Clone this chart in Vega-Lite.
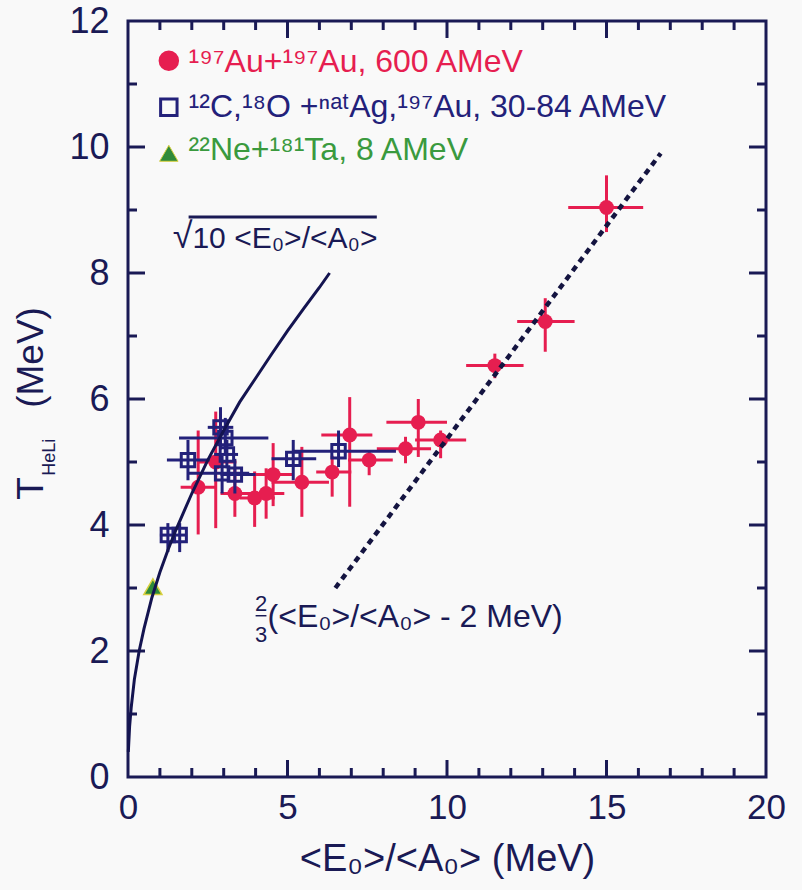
{
  "$schema": "https://vega.github.io/schema/vega-lite/v6.json",
  "width": 638,
  "height": 756,
  "autosize": {"type": "none"},
  "padding": {"left": 128, "top": 21, "right": 36, "bottom": 113},
  "background": "#f9f9f9",
  "config": {
    "view": {"stroke": "#1a1a55", "strokeWidth": 3},
    "font": "Liberation Sans",
    "axis": {"grid": false, "domain": false, "labelFont": "Liberation Sans", "titleFont": "Liberation Sans"}
  },
  "datasets": {
    "red": [
      {"x": 2.2, "y": 4.6, "xlo": 1.65, "xhi": 2.75, "ylo": 3.85, "yhi": 5.5},
      {"x": 2.75, "y": 5.0, "xlo": 2.2, "xhi": 3.4, "ylo": 3.95, "yhi": 5.8},
      {"x": 3.35, "y": 4.5, "xlo": 2.9, "xhi": 3.9, "ylo": 4.13, "yhi": 4.9},
      {"x": 3.97, "y": 4.43, "xlo": 3.5, "xhi": 4.6, "ylo": 3.97, "yhi": 4.85},
      {"x": 4.33, "y": 4.5, "xlo": 3.8, "xhi": 4.9, "ylo": 4.1, "yhi": 4.9},
      {"x": 4.55, "y": 4.8, "xlo": 4.0, "xhi": 5.2, "ylo": 4.3, "yhi": 5.3},
      {"x": 5.45, "y": 4.68, "xlo": 4.5, "xhi": 6.3, "ylo": 4.13, "yhi": 5.24},
      {"x": 6.4, "y": 4.84, "xlo": 5.9, "xhi": 7.0, "ylo": 4.45, "yhi": 5.1},
      {"x": 6.95, "y": 5.43, "xlo": 6.06, "xhi": 7.66, "ylo": 4.29, "yhi": 6.03},
      {"x": 7.56, "y": 5.03, "xlo": 6.9, "xhi": 8.3, "ylo": 4.79, "yhi": 5.19},
      {"x": 8.7, "y": 5.21, "xlo": 7.8, "xhi": 9.5, "ylo": 4.98, "yhi": 5.4},
      {"x": 9.1, "y": 5.63, "xlo": 8.1, "xhi": 10.0, "ylo": 5.08, "yhi": 6.0},
      {"x": 9.8, "y": 5.35, "xlo": 9.0, "xhi": 10.6, "ylo": 5.06, "yhi": 5.5},
      {"x": 11.5, "y": 6.53, "xlo": 10.6, "xhi": 12.4, "ylo": 6.33, "yhi": 6.72},
      {"x": 13.08, "y": 7.23, "xlo": 12.2, "xhi": 14.0, "ylo": 6.75, "yhi": 7.6},
      {"x": 15.0, "y": 9.04, "xlo": 13.8, "xhi": 16.15, "ylo": 8.65, "yhi": 9.55}
    ],
    "blue": [
      {"x": 1.25, "y": 3.84, "xlo": 1.0, "xhi": 1.5, "ylo": 3.57, "yhi": 4.03},
      {"x": 1.62, "y": 3.84, "xlo": 1.4, "xhi": 1.85, "ylo": 3.57, "yhi": 4.03},
      {"x": 1.88, "y": 5.03, "xlo": 1.22, "xhi": 2.56, "ylo": 4.71, "yhi": 5.35},
      {"x": 2.9, "y": 5.55, "xlo": 2.5, "xhi": 3.3, "ylo": 5.2, "yhi": 5.87},
      {"x": 3.05, "y": 5.38, "xlo": 1.6, "xhi": 4.4, "ylo": 5.1, "yhi": 5.7},
      {"x": 3.1, "y": 5.12, "xlo": 2.7, "xhi": 3.45, "ylo": 4.9, "yhi": 5.35},
      {"x": 2.95, "y": 4.82, "xlo": 1.9, "xhi": 3.8, "ylo": 4.5, "yhi": 5.1},
      {"x": 3.35, "y": 4.8, "xlo": 2.9, "xhi": 4.0, "ylo": 4.5, "yhi": 5.05},
      {"x": 5.18, "y": 5.05, "xlo": 4.5, "xhi": 5.9, "ylo": 4.71, "yhi": 5.35},
      {"x": 6.6, "y": 5.17, "xlo": 5.15, "xhi": 8.4, "ylo": 4.92, "yhi": 5.5}
    ],
    "green": [{"x": 0.78, "y": 3.02}],
    "sqrtcurve": [
      {"x": 0.01, "y": 0.4}, {"x": 0.05, "y": 0.8}, {"x": 0.1, "y": 1.1}, {"x": 0.2, "y": 1.55},
      {"x": 0.35, "y": 2.0}, {"x": 0.5, "y": 2.35}, {"x": 0.75, "y": 2.85}, {"x": 1.0, "y": 3.25},
      {"x": 1.25, "y": 3.6}, {"x": 1.5, "y": 3.92}, {"x": 2.0, "y": 4.5}, {"x": 2.5, "y": 5.03},
      {"x": 3.0, "y": 5.5}, {"x": 3.5, "y": 5.95}, {"x": 4.0, "y": 6.33}, {"x": 4.5, "y": 6.71},
      {"x": 5.0, "y": 7.08}, {"x": 5.5, "y": 7.43}, {"x": 6.0, "y": 7.77}, {"x": 6.32, "y": 8.0}
    ],
    "linear": [{"x": 6.5, "y": 3.0}, {"x": 16.7, "y": 9.9}],
    "xmajor": [{"v": 5}, {"v": 10}, {"v": 15}],
    "xminor": [{"v": 1}, {"v": 2}, {"v": 3}, {"v": 4}, {"v": 6}, {"v": 7}, {"v": 8}, {"v": 9}, {"v": 11}, {"v": 12}, {"v": 13}, {"v": 14}, {"v": 16}, {"v": 17}, {"v": 18}, {"v": 19}],
    "ymajor": [{"v": 2}, {"v": 4}, {"v": 6}, {"v": 8}, {"v": 10}],
    "yminor": [{"v": 1}, {"v": 3}, {"v": 5}, {"v": 7}, {"v": 9}, {"v": 11}]
  },
  "layer": [
    {
      "data": {"name": "xmajor"},
      "mark": {"type": "tick", "orient": "vertical", "size": 17, "thickness": 3, "color": "#1a1a55", "opacity": 1, "yOffset": -8.5},
      "encoding": {
        "x": {"field": "v", "type": "quantitative", "scale": {"domain": [0, 20], "nice": false},
          "axis": {"orient": "bottom", "values": [0, 5, 10, 15, 20], "format": "d", "ticks": false, "labelFontSize": 35, "labelColor": "#1a1a55", "labelPadding": 13, "labelFlush": false, "labelOverlap": false, "title": "<E₀>/<A₀> (MeV)", "titleFontSize": 38, "titleFontWeight": "normal", "titleColor": "#1a1a55", "titlePadding": 15}},
        "y": {"datum": 0, "type": "quantitative", "scale": {"domain": [0, 12], "nice": false},
          "axis": {"orient": "left", "values": [0, 2, 4, 6, 8, 10, 12], "format": "d", "ticks": false, "labelFontSize": 36, "labelColor": "#1a1a55", "labelPadding": 19, "labelFlush": false, "labelOverlap": false, "title": null}}
      }
    },
    {
      "data": {"name": "xmajor"},
      "mark": {"type": "tick", "orient": "vertical", "size": 17, "thickness": 3, "color": "#1a1a55", "opacity": 1, "yOffset": 8.5},
      "encoding": {
        "x": {"field": "v", "type": "quantitative"},
        "y": {"datum": 12, "type": "quantitative"}
      }
    },
    {
      "data": {"name": "xminor"},
      "mark": {"type": "tick", "orient": "vertical", "size": 9, "thickness": 3, "color": "#1a1a55", "opacity": 1, "yOffset": -4.5},
      "encoding": {
        "x": {"field": "v", "type": "quantitative"},
        "y": {"datum": 0, "type": "quantitative"}
      }
    },
    {
      "data": {"name": "xminor"},
      "mark": {"type": "tick", "orient": "vertical", "size": 9, "thickness": 3, "color": "#1a1a55", "opacity": 1, "yOffset": 4.5},
      "encoding": {
        "x": {"field": "v", "type": "quantitative"},
        "y": {"datum": 12, "type": "quantitative"}
      }
    },
    {
      "data": {"name": "ymajor"},
      "mark": {"type": "tick", "orient": "horizontal", "size": 17, "thickness": 3, "color": "#1a1a55", "opacity": 1, "xOffset": 8.5},
      "encoding": {
        "y": {"field": "v", "type": "quantitative"},
        "x": {"datum": 0, "type": "quantitative"}
      }
    },
    {
      "data": {"name": "ymajor"},
      "mark": {"type": "tick", "orient": "horizontal", "size": 17, "thickness": 3, "color": "#1a1a55", "opacity": 1, "xOffset": -8.5},
      "encoding": {
        "y": {"field": "v", "type": "quantitative"},
        "x": {"datum": 20, "type": "quantitative"}
      }
    },
    {
      "data": {"name": "yminor"},
      "mark": {"type": "tick", "orient": "horizontal", "size": 9, "thickness": 3, "color": "#1a1a55", "opacity": 1, "xOffset": 4.5},
      "encoding": {
        "y": {"field": "v", "type": "quantitative"},
        "x": {"datum": 0, "type": "quantitative"}
      }
    },
    {
      "data": {"name": "yminor"},
      "mark": {"type": "tick", "orient": "horizontal", "size": 9, "thickness": 3, "color": "#1a1a55", "opacity": 1, "xOffset": -4.5},
      "encoding": {
        "y": {"field": "v", "type": "quantitative"},
        "x": {"datum": 20, "type": "quantitative"}
      }
    },
    {
      "data": {"name": "red"},
      "mark": {"type": "rule", "color": "#e61e50", "strokeWidth": 3},
      "encoding": {
        "x": {"field": "xlo", "type": "quantitative"},
        "x2": {"field": "xhi"},
        "y": {"field": "y", "type": "quantitative"}
      }
    },
    {
      "data": {"name": "red"},
      "mark": {"type": "rule", "color": "#e61e50", "strokeWidth": 3},
      "encoding": {
        "x": {"field": "x", "type": "quantitative"},
        "y": {"field": "ylo", "type": "quantitative"},
        "y2": {"field": "yhi"}
      }
    },
    {
      "data": {"name": "red"},
      "mark": {"type": "point", "shape": "circle", "filled": true, "color": "#e61e50", "size": 220, "opacity": 1},
      "encoding": {
        "x": {"field": "x", "type": "quantitative"},
        "y": {"field": "y", "type": "quantitative"}
      }
    },
    {
      "data": {"name": "blue"},
      "mark": {"type": "rule", "color": "#23217a", "strokeWidth": 3},
      "encoding": {
        "x": {"field": "xlo", "type": "quantitative"},
        "x2": {"field": "xhi"},
        "y": {"field": "y", "type": "quantitative"}
      }
    },
    {
      "data": {"name": "blue"},
      "mark": {"type": "rule", "color": "#23217a", "strokeWidth": 3},
      "encoding": {
        "x": {"field": "x", "type": "quantitative"},
        "y": {"field": "ylo", "type": "quantitative"},
        "y2": {"field": "yhi"}
      }
    },
    {
      "data": {"name": "blue"},
      "mark": {"type": "point", "shape": "square", "filled": false, "color": "#23217a", "strokeWidth": 3, "size": 180, "opacity": 1},
      "encoding": {
        "x": {"field": "x", "type": "quantitative"},
        "y": {"field": "y", "type": "quantitative"}
      }
    },
    {
      "data": {"name": "green"},
      "mark": {"type": "point", "shape": "triangle-up", "filled": true, "fill": "#2f8a3a", "stroke": "#d8d040", "strokeWidth": 1.5, "size": 330, "opacity": 1},
      "encoding": {
        "x": {"field": "x", "type": "quantitative"},
        "y": {"field": "y", "type": "quantitative"}
      }
    },
    {
      "data": {"name": "sqrtcurve"},
      "mark": {"type": "line", "color": "#141450", "strokeWidth": 3},
      "encoding": {
        "x": {"field": "x", "type": "quantitative"},
        "y": {"field": "y", "type": "quantitative"}
      }
    },
    {
      "data": {"name": "linear"},
      "mark": {"type": "line", "color": "#141440", "strokeWidth": 4.5, "strokeDash": [6, 5]},
      "encoding": {
        "x": {"field": "x", "type": "quantitative"},
        "y": {"field": "y", "type": "quantitative"}
      }
    },
    {
      "data": {"values": [{"x": 1.28, "y": 11.37}]},
      "mark": {"type": "point", "shape": "circle", "filled": true, "color": "#e61e50", "size": 420, "opacity": 1},
      "encoding": {
        "x": {"field": "x", "type": "quantitative"},
        "y": {"field": "y", "type": "quantitative"}
      }
    },
    {
      "data": {"values": [{"x": 1.28, "y": 10.63}]},
      "mark": {"type": "point", "shape": "square", "filled": false, "color": "#23217a", "strokeWidth": 3, "size": 270, "opacity": 1},
      "encoding": {
        "x": {"field": "x", "type": "quantitative"},
        "y": {"field": "y", "type": "quantitative"}
      }
    },
    {
      "data": {"values": [{"x": 1.28, "y": 9.9}]},
      "mark": {"type": "point", "shape": "triangle-up", "filled": true, "fill": "#2f8a3a", "stroke": "#d8d040", "strokeWidth": 1, "size": 340, "opacity": 1},
      "encoding": {
        "x": {"field": "x", "type": "quantitative"},
        "y": {"field": "y", "type": "quantitative"}
      }
    },
    {
      "data": {"values": [{"x": 1.9, "y": 11.19, "label": "¹⁹⁷Au+¹⁹⁷Au, 600 AMeV"}]},
      "mark": {"type": "text", "align": "left", "baseline": "alphabetic", "fontSize": 32, "color": "#e61e50", "font": "Liberation Sans"},
      "encoding": {
        "x": {"field": "x", "type": "quantitative"},
        "y": {"field": "y", "type": "quantitative"},
        "text": {"field": "label"}
      }
    },
    {
      "data": {"values": [{"x": 1.9, "y": 10.48, "label": "¹²C,¹⁸O +ⁿᵃᵗAg,¹⁹⁷Au, 30-84 AMeV"}]},
      "mark": {"type": "text", "align": "left", "baseline": "alphabetic", "fontSize": 32, "color": "#23217a", "font": "Liberation Sans"},
      "encoding": {
        "x": {"field": "x", "type": "quantitative"},
        "y": {"field": "y", "type": "quantitative"},
        "text": {"field": "label"}
      }
    },
    {
      "data": {"values": [{"x": 1.9, "y": 9.79, "label": "²²Ne+¹⁸¹Ta, 8 AMeV"}]},
      "mark": {"type": "text", "align": "left", "baseline": "alphabetic", "fontSize": 32, "color": "#3a9a3e", "font": "Liberation Sans"},
      "encoding": {
        "x": {"field": "x", "type": "quantitative"},
        "y": {"field": "y", "type": "quantitative"},
        "text": {"field": "label"}
      }
    },
    {
      "data": {"values": [{"x": 1.4, "y": 8.4, "label": "√"}]},
      "mark": {"type": "text", "align": "left", "baseline": "alphabetic", "fontSize": 36, "color": "#1a1a55", "font": "Liberation Sans"},
      "encoding": {
        "x": {"field": "x", "type": "quantitative"},
        "y": {"field": "y", "type": "quantitative"},
        "text": {"field": "label"}
      }
    },
    {
      "data": {"values": [{"x": 2.02, "y": 8.4, "label": "10 <E₀>/<A₀>"}]},
      "mark": {"type": "text", "align": "left", "baseline": "alphabetic", "fontSize": 30, "color": "#1a1a55", "font": "Liberation Sans"},
      "encoding": {
        "x": {"field": "x", "type": "quantitative"},
        "y": {"field": "y", "type": "quantitative"},
        "text": {"field": "label"}
      }
    },
    {
      "data": {"values": [{"x": 1.9, "x2": 7.8, "y": 8.89}]},
      "mark": {"type": "rule", "color": "#1a1a55", "strokeWidth": 3},
      "encoding": {
        "x": {"field": "x", "type": "quantitative"},
        "x2": {"field": "x2"},
        "y": {"field": "y", "type": "quantitative"}
      }
    },
    {
      "data": {"values": [{"x": 4.0, "x2": 4.34, "y": 2.56}]},
      "mark": {"type": "rule", "color": "#1a1a55", "strokeWidth": 1.5},
      "encoding": {
        "x": {"field": "x", "type": "quantitative"},
        "x2": {"field": "x2"},
        "y": {"field": "y", "type": "quantitative"}
      }
    },
    {
      "data": {"values": [{"x": 4.17, "y": 2.63, "label": "2"}, {"x": 4.17, "y": 2.14, "label": "3"}]},
      "mark": {"type": "text", "align": "center", "baseline": "alphabetic", "fontSize": 22, "color": "#1a1a55", "font": "Liberation Sans"},
      "encoding": {
        "x": {"field": "x", "type": "quantitative"},
        "y": {"field": "y", "type": "quantitative"},
        "text": {"field": "label"}
      }
    },
    {
      "data": {"values": [{"x": 4.375, "y": 2.38, "label": "(<E₀>/<A₀> - 2 MeV)"}]},
      "mark": {"type": "text", "align": "left", "baseline": "alphabetic", "fontSize": 32, "color": "#1a1a55", "font": "Liberation Sans"},
      "encoding": {
        "x": {"field": "x", "type": "quantitative"},
        "y": {"field": "y", "type": "quantitative"},
        "text": {"field": "label"}
      }
    },
    {
      "data": {"values": [{"x": -2.66, "y": 4.4, "label": "T"}, {"x": -2.66, "y": 5.86, "label": "(MeV)"}]},
      "mark": {"type": "text", "align": "left", "baseline": "alphabetic", "angle": 270, "fontSize": 37, "color": "#1a1a55", "font": "Liberation Sans"},
      "encoding": {
        "x": {"field": "x", "type": "quantitative"},
        "y": {"field": "y", "type": "quantitative"},
        "text": {"field": "label"}
      }
    },
    {
      "data": {"values": [{"x": -2.28, "y": 4.78, "label": "HeLi"}]},
      "mark": {"type": "text", "align": "left", "baseline": "alphabetic", "angle": 270, "fontSize": 18, "color": "#1a1a55", "font": "Liberation Sans"},
      "encoding": {
        "x": {"field": "x", "type": "quantitative"},
        "y": {"field": "y", "type": "quantitative"},
        "text": {"field": "label"}
      }
    }
  ]
}
